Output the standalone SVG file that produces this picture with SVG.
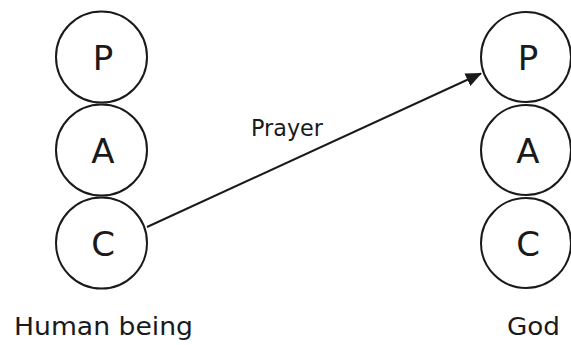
<svg xmlns="http://www.w3.org/2000/svg" width="571" height="345" viewBox="0 0 571 345">
  <style>
    .ring { fill: #ffffff; stroke: #1a1a1a; stroke-width: 2; }
    .letter { font-family: "DejaVu Sans", "Liberation Sans", sans-serif; font-size: 34px; fill: #1a1a1a; text-anchor: middle; }
    .caption { font-family: "DejaVu Sans", "Liberation Sans", sans-serif; font-size: 25px; fill: #1a1a1a; }
    .label { font-family: "DejaVu Sans", "Liberation Sans", sans-serif; font-size: 23px; fill: #1a1a1a; }
    .link { stroke: #1a1a1a; stroke-width: 2; fill: none; }
  </style>
  <defs>
    <marker id="arrowhead" markerWidth="8" markerHeight="7" refX="7.5" refY="3.5" orient="auto" markerUnits="strokeWidth">
      <path d="M0,0 L8,3.5 L0,7 Z" fill="#1a1a1a"/>
    </marker>
  </defs>
  <rect width="571" height="345" fill="#ffffff"/>

  <!-- Human being: Parent / Adult / Child ego states -->
  <g id="human-P">
    <circle class="ring" cx="101.5" cy="57" r="45.5"/>
    <text class="letter" x="103" y="70">P</text>
  </g>
  <g id="human-A">
    <circle class="ring" cx="101.5" cy="150" r="45.5"/>
    <text class="letter" x="103" y="163">A</text>
  </g>
  <g id="human-C">
    <circle class="ring" cx="101.5" cy="243" r="45.5"/>
    <text class="letter" x="103" y="256">C</text>
  </g>
  <g id="human-label">
    <text class="caption" x="14" y="335" textLength="179" lengthAdjust="spacingAndGlyphs">Human being</text>
  </g>

  <!-- God: Parent / Adult / Child ego states -->
  <g id="god-P">
    <circle class="ring" cx="526" cy="57" r="45"/>
    <text class="letter" x="528" y="70">P</text>
  </g>
  <g id="god-A">
    <circle class="ring" cx="526" cy="150" r="45"/>
    <text class="letter" x="528" y="163">A</text>
  </g>
  <g id="god-C">
    <circle class="ring" cx="526" cy="243" r="45"/>
    <text class="letter" x="528" y="256">C</text>
  </g>
  <g id="god-label">
    <text class="caption" x="507" y="335" textLength="53" lengthAdjust="spacingAndGlyphs">God</text>
  </g>

  <!-- Connectors -->
  <g id="connectors">
    <line class="link" x1="147" y1="227" x2="481" y2="73.5" marker-end="url(#arrowhead)"/>
    <text class="label" x="251" y="136" textLength="72" lengthAdjust="spacingAndGlyphs">Prayer</text>
  </g>
</svg>
